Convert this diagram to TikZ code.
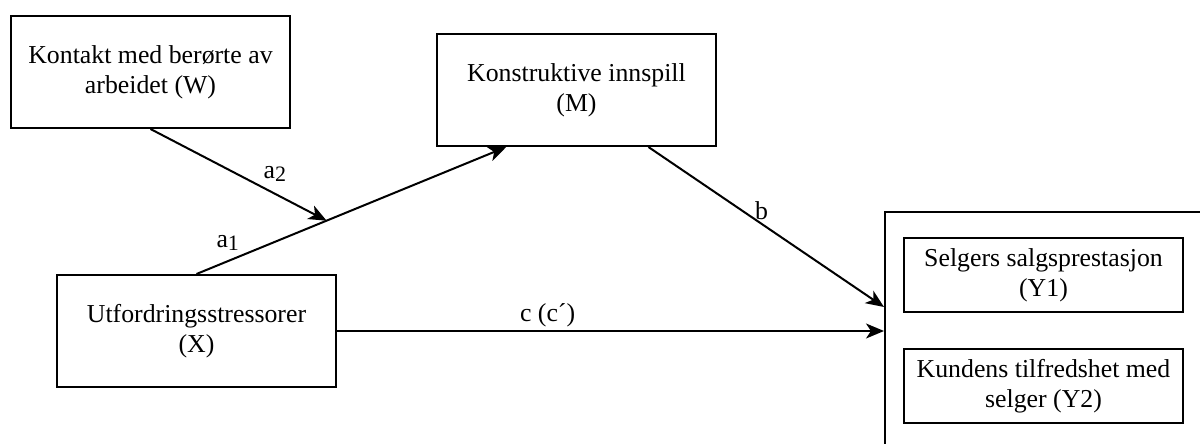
\documentclass[tikz,border=0pt]{standalone}
\usepackage{fontspec}
\setmainfont{Liberation Serif}
\usetikzlibrary{arrows.meta,positioning,calc}

\newcommand{\subidx}[1]{{\fontsize{11}{11}\selectfont\raisebox{-0.35ex}{#1}}}

\begin{document}
\begin{tikzpicture}[x=0.5pt,y=-0.5pt,
      font=\rmfamily\fontsize{12.9}{15}\selectfont,
      box/.style={draw,line width=1pt,minimum width=139.5pt,minimum height=56pt,
                  align=center,inner sep=2pt},
      ybox/.style={box,minimum height=37pt},
      arr/.style={-{Stealth[length=9pt,width=7.5pt,inset=2.5pt]},line width=1pt},
      lab/.style={inner sep=1.5pt}]
    \clip (0,0) rectangle (1200,444);

    % moderator, mediator and predictor
    \node[box] (W) at (150.5,72) {Kontakt med berørte av\\arbeidet (W)};
    \node[box] (M) at (576.5,90) {Konstruktive innspill\\(M)};
    \node[box] (X) at (196.5,331) {Utfordringsstressorer\\(X)};

    % the two outcomes, framed together (frame runs off the page)
    \node[draw,line width=1pt,anchor=north west,minimum width=170pt,
          minimum height=130pt] (Y) at (884,211) {};
    \node[ybox] (Y1) at (1043.5,275) {Selgers salgsprestasjon\\(Y1)};
    \node[ybox] (Y2) at (1043.5,386) {Kundens tilfredshet med\\selger (Y2)};

    % paths
    \draw[arr] (X.north) -- coordinate[pos=0.42] (mod)
      ($(M.south west)!0.25!(M.south east)$)
      node[lab,pos=0.15,above left] {a\subidx{1}};
    \draw[arr] (W.south) -- (mod) node[lab,pos=0.62,above right] {a\subidx{2}};
    \draw[arr] ($(M.south west)!0.756!(M.south east)$) -- ($(Y.north west)+(0,96)$)
      node[lab,pos=0.48,above] {b};
    \draw[arr] (X.east) -- (X.east -| Y.west) node[lab,pos=0.385,above] {c (c´)};
  \end{tikzpicture}
\end{document}
